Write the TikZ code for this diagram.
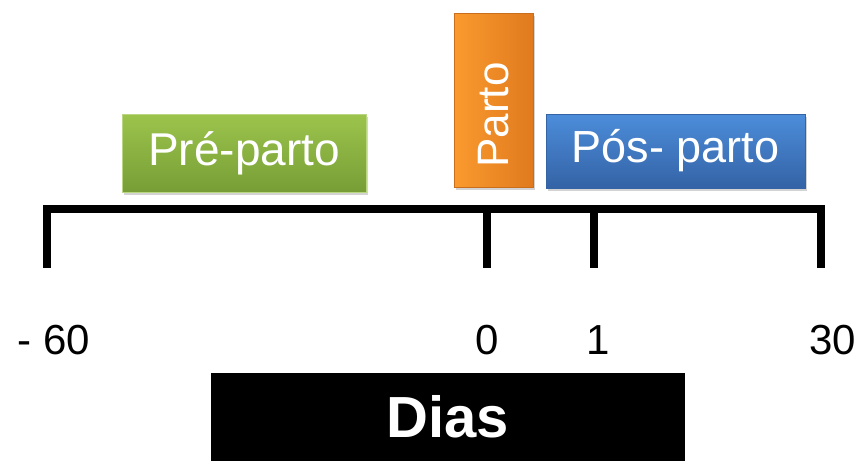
\documentclass[tikz,border=0pt]{standalone}
\usepackage{fontspec}
\setmainfont{Liberation Sans}
\usetikzlibrary{shadows}
\definecolor{grtop}{HTML}{9CC44C}
\definecolor{grbot}{HTML}{779E36}
\definecolor{ortop}{HTML}{FA9A2E}
\definecolor{orbot}{HTML}{E07A1E}
\definecolor{bltop}{HTML}{4C8DDA}
\definecolor{blbot}{HTML}{3463A6}
\tikzset{
  phase/.style={rectangle, inner sep=0pt, text=white, font=\fontsize{44}{48}\selectfont,
    drop shadow={shadow xshift=2pt, shadow yshift=-3pt, opacity=0.35}},
  bar/.style={line width=8pt, line cap=butt},
  ticklabel/.style={font=\fontsize{42}{46}\selectfont, inner sep=0pt},
}
\begin{document}
\begin{tikzpicture}[x=1pt, y=-1pt]
\useasboundingbox (0,0) rectangle (863,461);
% phase boxes
\node[phase, minimum width=244pt, minimum height=78pt, top color=grtop, bottom color=grbot, draw=grtop!70!white, line width=1pt, font=\fontsize{46}{50}\selectfont] (pre) at (244,153) {Pré-parto};
\node[phase, minimum width=79pt, minimum height=174pt, left color=ortop, right color=orbot, draw=orbot!90!black, line width=0.6pt] (parto) at (493.5,100) {};
\node[text=white, font=\fontsize{44}{48}\selectfont, rotate=90, inner sep=0pt] (partotxt) at (494,115) {Parto};
\node[phase, minimum width=259pt, minimum height=74pt, top color=bltop, bottom color=blbot, draw=blbot, line width=0.6pt, font=\fontsize{45}{49}\selectfont] (pos) at (675.5,151) {Pós- parto};
% timeline
\coordinate (a) at (47,208.5);
\coordinate (b) at (822,208.5);
\coordinate (t60) at (47,205);  \coordinate (b60) at (47,268);
\coordinate (t0) at (487,208);  \coordinate (b0) at (487,268);
\coordinate (t1) at (594,208);  \coordinate (b1) at (594,268);
\coordinate (t30) at (821,205); \coordinate (b30) at (821,268);
\draw[bar] (a) -- (b);
\draw[bar] (t60) -- (b60);
\draw[bar] (t0) -- (b0);
\draw[bar] (t1) -- (b1);
\draw[bar] (t30) -- (b30);
% labels
\node[ticklabel] (l60) at (54,340) {- 60};
\node[ticklabel] (l0) at (487,340) {0};
\node[ticklabel] (l1) at (598,340) {1};
\node[ticklabel] (l30) at (833,340) {30};
% Dias
\node[fill=black, minimum width=474pt, minimum height=88pt, inner sep=0pt, text=white, font=\bfseries\fontsize{58}{62}\selectfont] (dias) at (448,417) {Dias};
\end{tikzpicture}
\end{document}
